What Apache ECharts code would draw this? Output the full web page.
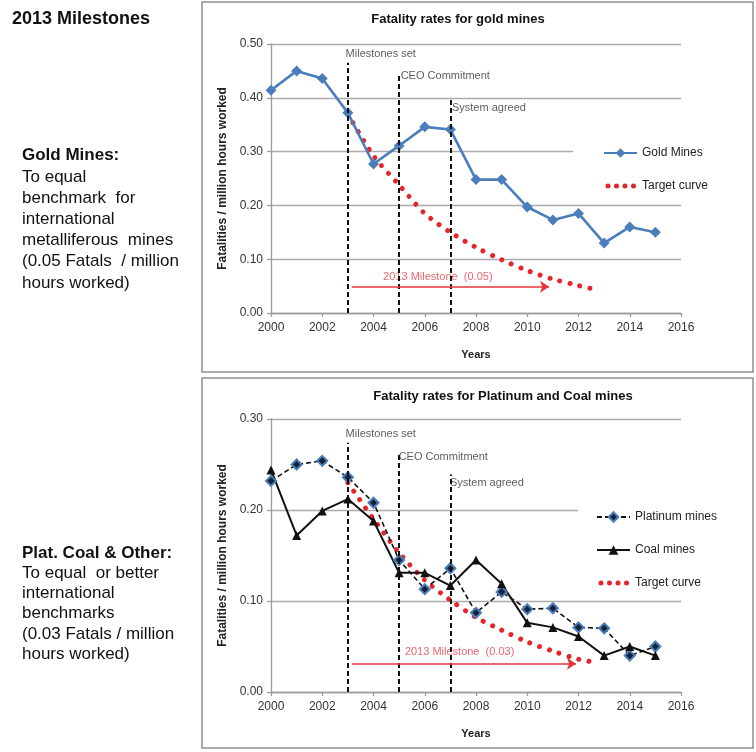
<!DOCTYPE html>
<html>
<head>
<meta charset="utf-8">
<script src="https://cdn.jsdelivr.net/npm/echarts@6/dist/echarts.min.js"></script>
<style>
  html, body { margin: 0; padding: 0; background: #fff; }
  #chart { width: 756px; height: 752px; }
</style>
</head>
<body>
<div id="chart"></div>
<script>
// Annual fatality rates (fatalities per million hours worked)
const years = [2000, 2001, 2002, 2003, 2004, 2005, 2006, 2007, 2008, 2009, 2010, 2011, 2012, 2013, 2014, 2015];
const goldMines = [0.414, 0.450, 0.436, 0.372, 0.277, 0.311, 0.346, 0.341, 0.248, 0.248, 0.197, 0.173, 0.185, 0.130, 0.160, 0.150];
const platinumMines = [0.232, 0.250, 0.254, 0.236, 0.208, 0.145, 0.113, 0.136, 0.087, 0.110, 0.091, 0.092, 0.071, 0.070, 0.040, 0.050];
const coalMines = [0.244, 0.172, 0.199, 0.212, 0.188, 0.131, 0.131, 0.117, 0.145, 0.119, 0.076, 0.071, 0.061, 0.040, 0.050, 0.040];

// Target curves from the year the milestones were set
const goldTargetYears = [2003, 2004, 2005, 2006, 2007, 2008, 2009, 2010, 2011, 2012, 2012.8];
const goldTargetValues = [0.370, 0.292, 0.238, 0.185, 0.150, 0.122, 0.099, 0.079, 0.063, 0.051, 0.042];
const platTargetYears = [2003, 2004, 2005, 2006, 2007, 2008, 2009, 2010, 2011, 2012, 2012.8];
const platTargetValues = [0.230, 0.190, 0.153, 0.123, 0.101, 0.082, 0.068, 0.055, 0.045, 0.036, 0.032];

// Milestone events
const milestoneYears = [2003, 2005, 2007];
const milestoneNames = ['Milestones set', 'CEO Commitment', 'System agreed'];

// 2013 milestone levels
const goldMilestone = 0.05;
const platMilestone = 0.03;
const goldMilestoneText = '2013 Milestone  (0.05)';
const platMilestoneText = '2013 Milestone  (0.03)';

const FONT = '"Liberation Sans", Arial, sans-serif';
const RED = '#e4262c';
const pairs = (xs, ys) => xs.map((x, i) => [x, ys[i]]);

// four round dots inside a 33x12 box, used as the legend icon of the target curves
const dotIcon = 'path://M0,0L0,0.01ZM33,12L33,11.99Z' +
  [4, 12.5, 21, 29.5].map(cx => `M${cx - 2.5},6A2.5,2.5 0 1 1 ${cx + 2.5},6A2.5,2.5 0 1 1 ${cx - 2.5},6Z`).join('');

const chart = echarts.init(document.getElementById('chart'), null, { renderer: 'canvas' });

function xAxisCfg(gridIndex) {
  return {
    gridIndex, type: 'value', min: 2000, max: 2016, interval: 2,
    name: 'Years', nameLocation: 'middle', nameGap: 36,
    nameTextStyle: { fontFamily: FONT, fontWeight: 'bold', fontSize: 11, color: '#222' },
    axisLine: { show: true, lineStyle: { color: '#9a9a9a', width: 1.3 } },
    axisTick: { show: true, length: 4, lineStyle: { color: '#9a9a9a', width: 1.3 } },
    axisLabel: { fontFamily: FONT, fontSize: 12, color: '#333', margin: 9, formatter: v => String(v) },
    splitLine: { show: false }
  };
}
function yAxisCfg(gridIndex, max) {
  return {
    gridIndex, type: 'value', min: 0, max, interval: 0.1,
    name: 'Fatalities / million hours worked', nameLocation: 'middle', nameGap: 40, nameRotate: 90,
    nameTextStyle: { fontFamily: FONT, fontWeight: 'bold', fontSize: 12, color: '#222' },
    axisLine: { show: true, lineStyle: { color: '#9a9a9a', width: 1.3 } },
    axisTick: { show: true, length: 4, lineStyle: { color: '#9a9a9a', width: 1.3 } },
    axisLabel: { fontFamily: FONT, fontSize: 12, color: '#333', margin: 8, formatter: v => v.toFixed(2) },
    splitLine: { show: true, lineStyle: { color: '#ababab', width: 1.3 } }
  };
}

const targetStyle = { color: RED, width: 5, type: [0.01, 10.3], cap: 'round' };

function milestoneLines(idx, tops) {
  return {
    type: 'line', xAxisIndex: idx, yAxisIndex: idx, data: [], silent: true,
    markLine: {
      silent: true, symbol: ['none', 'none'], label: { show: false },
      lineStyle: { color: '#111', width: 2, type: [5, 3] },
      data: milestoneYears.map((yr, i) => [{ coord: [yr, 0] }, { coord: [yr, tops[i]] }])
    }
  };
}
function milestoneArrow(idx, x0, x1, level) {
  return {
    type: 'line', xAxisIndex: idx, yAxisIndex: idx, data: [], silent: true,
    markLine: {
      silent: true, symbol: ['none', 'arrow'], symbolSize: 9, label: { show: false },
      lineStyle: { color: '#e4343a', width: 1.6, type: 'solid' },
      data: [[{ coord: [x0, level] }, { coord: [x1, level] }]]
    }
  };
}
function annotations(idx, items) {
  return {
    type: 'scatter', xAxisIndex: idx, yAxisIndex: idx, silent: true,
    symbolSize: 1, itemStyle: { color: 'rgba(0,0,0,0)' },
    data: items.map(it => ({
      value: [it.x, it.y], name: it.text,
      label: {
        show: true, formatter: '{b}', position: [0, 0], align: it.align || 'left', verticalAlign: 'middle',
        fontFamily: FONT, fontSize: 11, color: it.color || '#333'
      }
    }))
  };
}

const goldLabelY = [0.480, 0.439, 0.381];
const platLabelY = [0.2835, 0.258, 0.2297];

const leftTextTop = ['To equal', 'benchmark  for', 'international', 'metalliferous  mines', '(0.05 Fatals  / million', 'hours worked)'];
const leftTextBottom = ['To equal  or better', 'international', 'benchmarks', '(0.03 Fatals / million', 'hours worked)'];

const graphics = [
  { type: 'rect', shape: { x: 202, y: 2, width: 551, height: 370 }, style: { fill: 'none', stroke: '#8f8f8f', lineWidth: 1.5 }, z: -1 },
  { type: 'rect', shape: { x: 202, y: 378, width: 551, height: 370 }, style: { fill: 'none', stroke: '#8f8f8f', lineWidth: 1.5 }, z: -1 },
  { type: 'text', x: 458, y: 19, style: { text: 'Fatality rates for gold mines', font: 'bold 13px ' + FONT, fill: '#111', align: 'center', verticalAlign: 'middle' } },
  { type: 'text', x: 503, y: 396, style: { text: 'Fatality rates for Platinum and Coal mines', font: 'bold 13px ' + FONT, fill: '#111', align: 'center', verticalAlign: 'middle' } },
  { type: 'text', x: 12, y: 19, style: { text: '2013 Milestones', font: 'bold 18px ' + FONT, fill: '#111', verticalAlign: 'middle' } },
  { type: 'text', x: 22, y: 155, style: { text: 'Gold Mines:', font: 'bold 17px ' + FONT, fill: '#111', verticalAlign: 'middle' } },
  { type: 'text', x: 22, y: 553, style: { text: 'Plat. Coal & Other:', font: 'bold 17px ' + FONT, fill: '#111', verticalAlign: 'middle' } }
];
leftTextTop.forEach((t, i) => graphics.push({ type: 'text', x: 22, y: 177 + i * 21.2, style: { text: t, font: '17px ' + FONT, fill: '#111', verticalAlign: 'middle' } }));
leftTextBottom.forEach((t, i) => graphics.push({ type: 'text', x: 22, y: 573 + i * 20.4, style: { text: t, font: '17px ' + FONT, fill: '#111', verticalAlign: 'middle' } }));

const option = {
  animation: false,
  backgroundColor: '#fff',
  textStyle: { fontFamily: FONT },
  grid: [
    { left: 271, top: 44, width: 410, height: 269 },
    { left: 271, top: 419, width: 410, height: 273 }
  ],
  xAxis: [xAxisCfg(0), xAxisCfg(1)],
  yAxis: [yAxisCfg(0, 0.5), yAxisCfg(1, 0.3)],
  legend: [
    {
      orient: 'vertical', left: 573, top: 140, padding: [7, 10, 7, 30], itemGap: 21,
      itemWidth: 33, itemHeight: 12, backgroundColor: '#fff', selectedMode: false,
      textStyle: { fontFamily: FONT, fontSize: 12, color: '#222' },
      data: [{ name: 'Gold Mines' }, { name: 'Target curve', icon: dotIcon, itemStyle: { color: RED } }]
    },
    {
      orient: 'vertical', left: 578, top: 504, padding: [7, 10, 7, 18], itemGap: 21,
      itemWidth: 33, itemHeight: 12, backgroundColor: '#fff', selectedMode: false,
      textStyle: { fontFamily: FONT, fontSize: 12, color: '#222' },
      data: [{ name: 'Platinum mines' }, { name: 'Coal mines' }, { name: 'Target curve', icon: dotIcon, itemStyle: { color: RED } }]
    }
  ],
  graphic: graphics,
  series: [
    milestoneLines(0, [0.465, 0.441, 0.400]),
    milestoneArrow(0, 2003.15, 2010.85, goldMilestone - 0.001),
    annotations(0, milestoneNames.map((n, i) => ({ x: milestoneYears[i] + (i === 0 ? -0.07 : 0.08), y: goldLabelY[i], text: n }))
      .concat([{ x: 2006.53, y: 0.0656, text: goldMilestoneText, align: 'center', color: '#e0404c' }])),
    {
      name: 'Target curve', type: 'line', xAxisIndex: 0, yAxisIndex: 0, smooth: 0.3,
      data: pairs(goldTargetYears, goldTargetValues), symbol: 'none',
      lineStyle: targetStyle, itemStyle: { color: RED }, z: 3
    },
    {
      name: 'Gold Mines', type: 'line', xAxisIndex: 0, yAxisIndex: 0,
      data: pairs(years, goldMines), symbol: 'diamond', symbolSize: 11,
      lineStyle: { color: '#4a7ebb', width: 2.6 }, itemStyle: { color: '#4a7ebb' }, z: 4
    },

    milestoneLines(1, [0.274, 0.261, 0.239]),
    milestoneArrow(1, 2003.15, 2011.9, platMilestone + 0.001),
    annotations(1, milestoneNames.map((n, i) => ({ x: milestoneYears[i] + (i === 0 ? -0.07 : 0.0), y: platLabelY[i], text: n }))
      .concat([{ x: 2007.38, y: 0.0432, text: platMilestoneText, align: 'center', color: '#e0404c' }])),
    {
      name: 'Target curve', type: 'line', xAxisIndex: 1, yAxisIndex: 1, smooth: 0.3,
      data: pairs(platTargetYears, platTargetValues), symbol: 'none',
      lineStyle: targetStyle, itemStyle: { color: RED }, z: 3
    },
    {
      name: 'Platinum mines', type: 'line', xAxisIndex: 1, yAxisIndex: 1,
      data: pairs(years, platinumMines), symbol: 'diamond', symbolSize: 10,
      lineStyle: { color: '#111', width: 1.6, type: [5, 3] },
      itemStyle: { color: '#17233a', borderColor: '#4a7ebb', borderWidth: 2 }, z: 4
    },
    {
      name: 'Coal mines', type: 'line', xAxisIndex: 1, yAxisIndex: 1,
      data: pairs(years, coalMines), symbol: 'triangle', symbolSize: 9,
      lineStyle: { color: '#111', width: 2 }, itemStyle: { color: '#111' }, z: 4
    }
  ]
};

chart.setOption(option);
</script>
</body>
</html>
